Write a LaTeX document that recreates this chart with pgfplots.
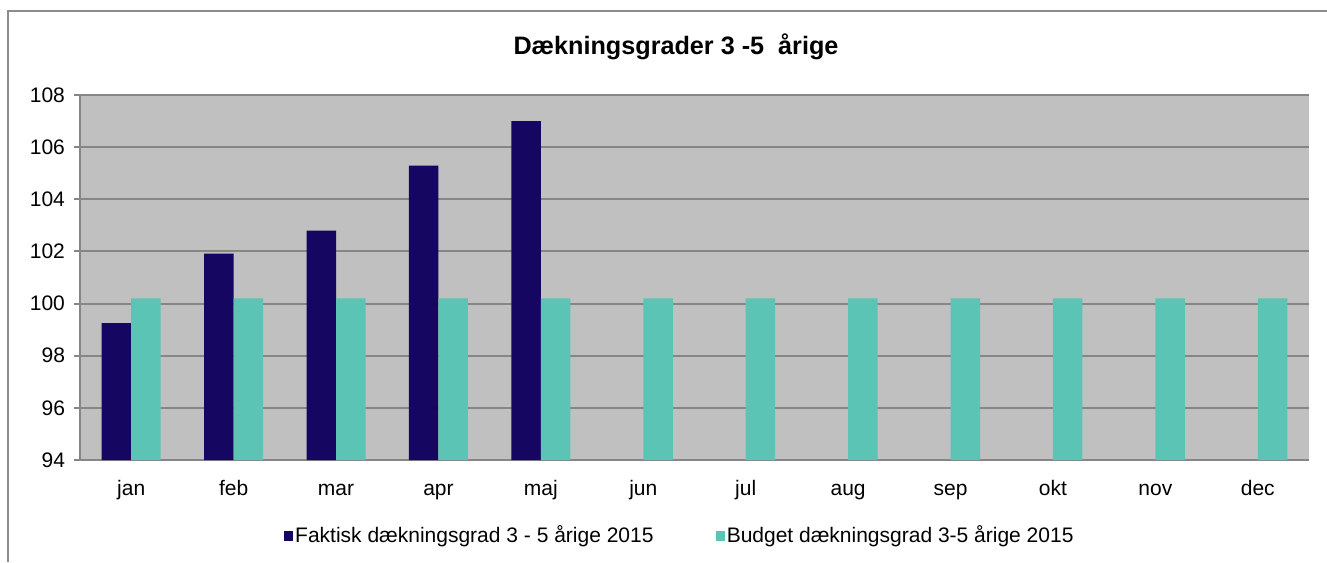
\documentclass[border=0pt]{standalone}
\usepackage{pgfplots}
\pgfplotsset{compat=1.18}
\usepackage{fontspec}
\setmainfont{Liberation Sans}
\definecolor{faktisk}{RGB}{21,6,98}
\definecolor{budget}{RGB}{91,196,181}
\definecolor{plotbg}{RGB}{192,192,192}
\definecolor{gridc}{RGB}{134,134,134}
\definecolor{framec}{RGB}{140,140,140}
\begin{document}
\begin{tikzpicture}[x=0.5pt,y=-0.5pt]
\path[use as bounding box] (0,0) rectangle (1327,562);
\draw[framec,line width=1pt] (8,562) -- (8,11) -- (1327,11);
\node[font=\fontsize{12.6}{14}\selectfont\bfseries] at (676,47) {Dækningsgrader 3 -5 \ årige};
\begin{axis}[
  at={(40pt,-47.5pt)}, anchor=north west,
  scale only axis, width=614.5pt, height=182.5pt,
  xmin=-0.5, xmax=11.5, ymin=94, ymax=108,
  ybar=0pt, bar width=14.75pt,
  axis x line*=bottom, axis y line*=left,
  axis line style={gridc,line width=1pt},
  axis background/.style={fill=plotbg},
  ytick={94,96,...,108},
  xtick={0,...,11},
  xticklabels={jan,feb,mar,apr,maj,jun,jul,aug,sep,okt,nov,dec},
  xtick style={draw=none},
  minor xtick={-0.5,0.5,...,11.5},
  minor x tick style={gridc,line width=1pt},
  ytick style={gridc,line width=1pt},
  tick align=outside, major tick length=3pt, minor tick length=3pt,
  ymajorgrids, major grid style={gridc,line width=1pt},
  tick label style={font=\fontsize{10.5}{12}\selectfont},
  /pgf/number format/assume math mode=true,
  xticklabel style={yshift=-3pt, text height=1.6ex, text depth=0.45ex},
  yticklabel style={xshift=-1pt},
  legend style={at={(0.488,-0.208)}, anchor=center, draw=none, fill=none,
    legend columns=2, font=\fontsize{10.5}{12}\selectfont,
    /tikz/every even column/.append style={column sep=30pt},
    nodes={inner xsep=1pt}},
  legend image code/.code={\fill[#1,draw=none] (0pt,-2.3pt) rectangle (4.6pt,2.3pt);},
]
\addplot[fill=faktisk,draw=none] coordinates {(0,99.25) (1,101.92) (2,102.8) (3,105.29) (4,107.0)};
\addplot[fill=budget,draw=none] coordinates {(0,100.2) (1,100.2) (2,100.2) (3,100.2) (4,100.2) (5,100.2) (6,100.2) (7,100.2) (8,100.2) (9,100.2) (10,100.2) (11,100.2)};
\legend{Faktisk dækningsgrad 3 - 5 årige 2015, Budget dækningsgrad 3-5 årige 2015}
\end{axis}
\end{tikzpicture}
\end{document}
